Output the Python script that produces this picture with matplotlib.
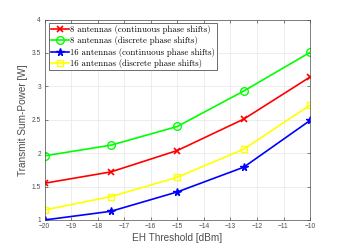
import matplotlib.pyplot as plt

# Valores
eh_threshold = [-20, -17.5, -15, -12.5, -10]
p_8_cont = [1.55, 1.72, 2.04, 2.51, 3.14]
p_8_disc = [1.96, 2.12, 2.40, 2.93, 3.51]
p_16_cont = [1.00, 1.13, 1.42, 1.79, 2.49]
p_16_disc = [1.15, 1.35, 1.64, 2.06, 2.72]

labels = ["8 antennas (continuous phase shifts)",
          "8 antennas (discrete phase shifts)",
          "16 antennas (continuous phase shifts)",
          "16 antennas (discrete phase shifts)"]

plt.rcParams['font.family'] = 'Liberation Sans'

fig = plt.figure(figsize=(3.43, 2.48), dpi=100)
ax = fig.add_axes([0.130, 0.113, 0.774, 0.808])

ax.plot(eh_threshold, p_8_cont, color='red', marker='x', ms=4, lw=1.2, mew=1.2, label=labels[0])
ax.plot(eh_threshold, p_8_disc, color='#00ff00', marker='o', ms=5.5, lw=1.2, mew=1.0, mfc='none', label=labels[1])
ax.plot(eh_threshold, p_16_cont, color='blue', marker='*', ms=5.5, lw=1.2, mew=1.0, label=labels[2])
ax.plot(eh_threshold, p_16_disc, color='yellow', marker='s', ms=4.5, lw=1.2, mew=1.0, mfc='none', label=labels[3])

ax.set_xlim(-20, -10)
ax.set_ylim(1, 4)
ax.set_xticks(range(-20, -9))
ax.set_yticks([1, 1.5, 2, 2.5, 3, 3.5, 4])
ax.set_yticklabels(['1', '1.5', '2', '2.5', '3', '3.5', '4'])
ax.tick_params(direction='in', length=2, width=0.5, labelsize=4.8, colors='#4d4d4d',
               top=True, right=True, pad=2.5)
for s in ax.spines.values():
    s.set_linewidth(0.5)
    s.set_color('#4d4d4d')
ax.grid(True, color='#e6e6e6', lw=0.5)
ax.set_axisbelow(True)

ax.set_xlabel('EH Threshold [dBm]', fontsize=7.2, color='#4d4d4d', labelpad=2)
ax.set_ylabel('Transmit Sum-Power [W]', fontsize=7.2, color='#4d4d4d', labelpad=2.5)

leg = ax.legend(loc='upper left', bbox_to_anchor=(0.015, 0.985),
                prop={'family': 'cmr10', 'size': 6.3},
                fancybox=False, framealpha=1, edgecolor='#333333',
                borderpad=0.3, labelspacing=0.25, handlelength=2.0, handletextpad=0.1,
                borderaxespad=0.0)
leg.get_frame().set_linewidth(0.5)

plt.savefig('out.png', dpi=100)
